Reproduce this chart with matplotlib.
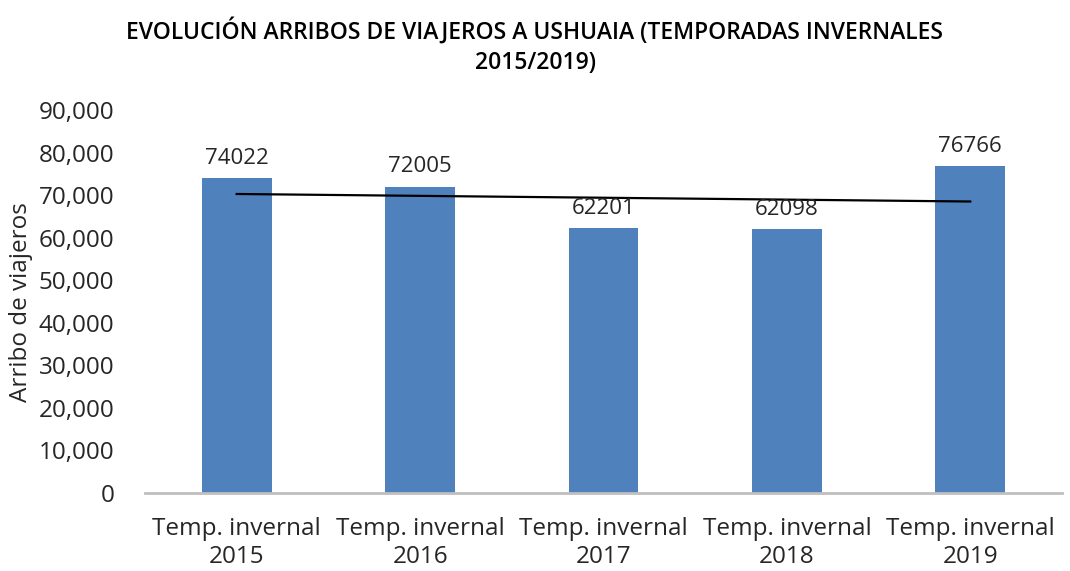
import numpy as np
import matplotlib.pyplot as plt

# datos
categorias = ['Temp. invernal\n2015', 'Temp. invernal\n2016', 'Temp. invernal\n2017',
              'Temp. invernal\n2018', 'Temp. invernal\n2019']
arribos = [74022, 72005, 62201, 62098, 76766]
y_ticks = [0, 10000, 20000, 30000, 40000, 50000, 60000, 70000, 80000, 90000]

plt.rcParams['font.family'] = ['Open Sans', 'DejaVu Sans']

fig = plt.figure(figsize=(10.7, 5.71), dpi=100)
ax = fig.add_axes([0.1355, 0.1366, 0.857, 0.6704])

x = np.arange(len(categorias))
ax.bar(x, arribos, width=0.38, color='#4F81BD', zorder=2)

# linea de tendencia lineal
m, b = np.polyfit(x, arribos, 1)
ax.plot(x, m * x + b, color='black', linewidth=1.6, zorder=3)

for xi, v in zip(x, arribos):
    ax.text(xi, v + 2200, str(v), ha='center', va='bottom', fontsize=16, color='#262626')

ax.set_xlim(-0.5, len(categorias) - 0.5)
ax.set_ylim(0, 90000)
ax.set_yticks(y_ticks)
ax.set_yticklabels([f'{t:,}' for t in y_ticks], fontsize=17.5, color='#262626')
ax.set_xticks(x)
ax.set_xticklabels(categorias, fontsize=17.5, color='#262626', linespacing=1.25)
ax.tick_params(axis='y', length=0, pad=22)
ax.tick_params(axis='x', length=0, pad=17)

for s in ['top', 'right', 'left']:
    ax.spines[s].set_visible(False)
ax.spines['bottom'].set_color('#BFBFBF')
ax.spines['bottom'].set_linewidth(2)

ax.set_ylabel('Arribo de viajeros', fontsize=17.5, color='#262626', labelpad=4)

fig.text(0.5, 0.945, 'EVOLUCIÓN ARRIBOS DE VIAJEROS A USHUAIA (TEMPORADAS INVERNALES',
         ha='center', va='center', fontsize=16.5, fontweight='semibold')
fig.text(0.5, 0.89, '2015/2019)', ha='center', va='center', fontsize=16.5,
         fontweight='semibold')

fig.savefig('out.png', dpi=100)
